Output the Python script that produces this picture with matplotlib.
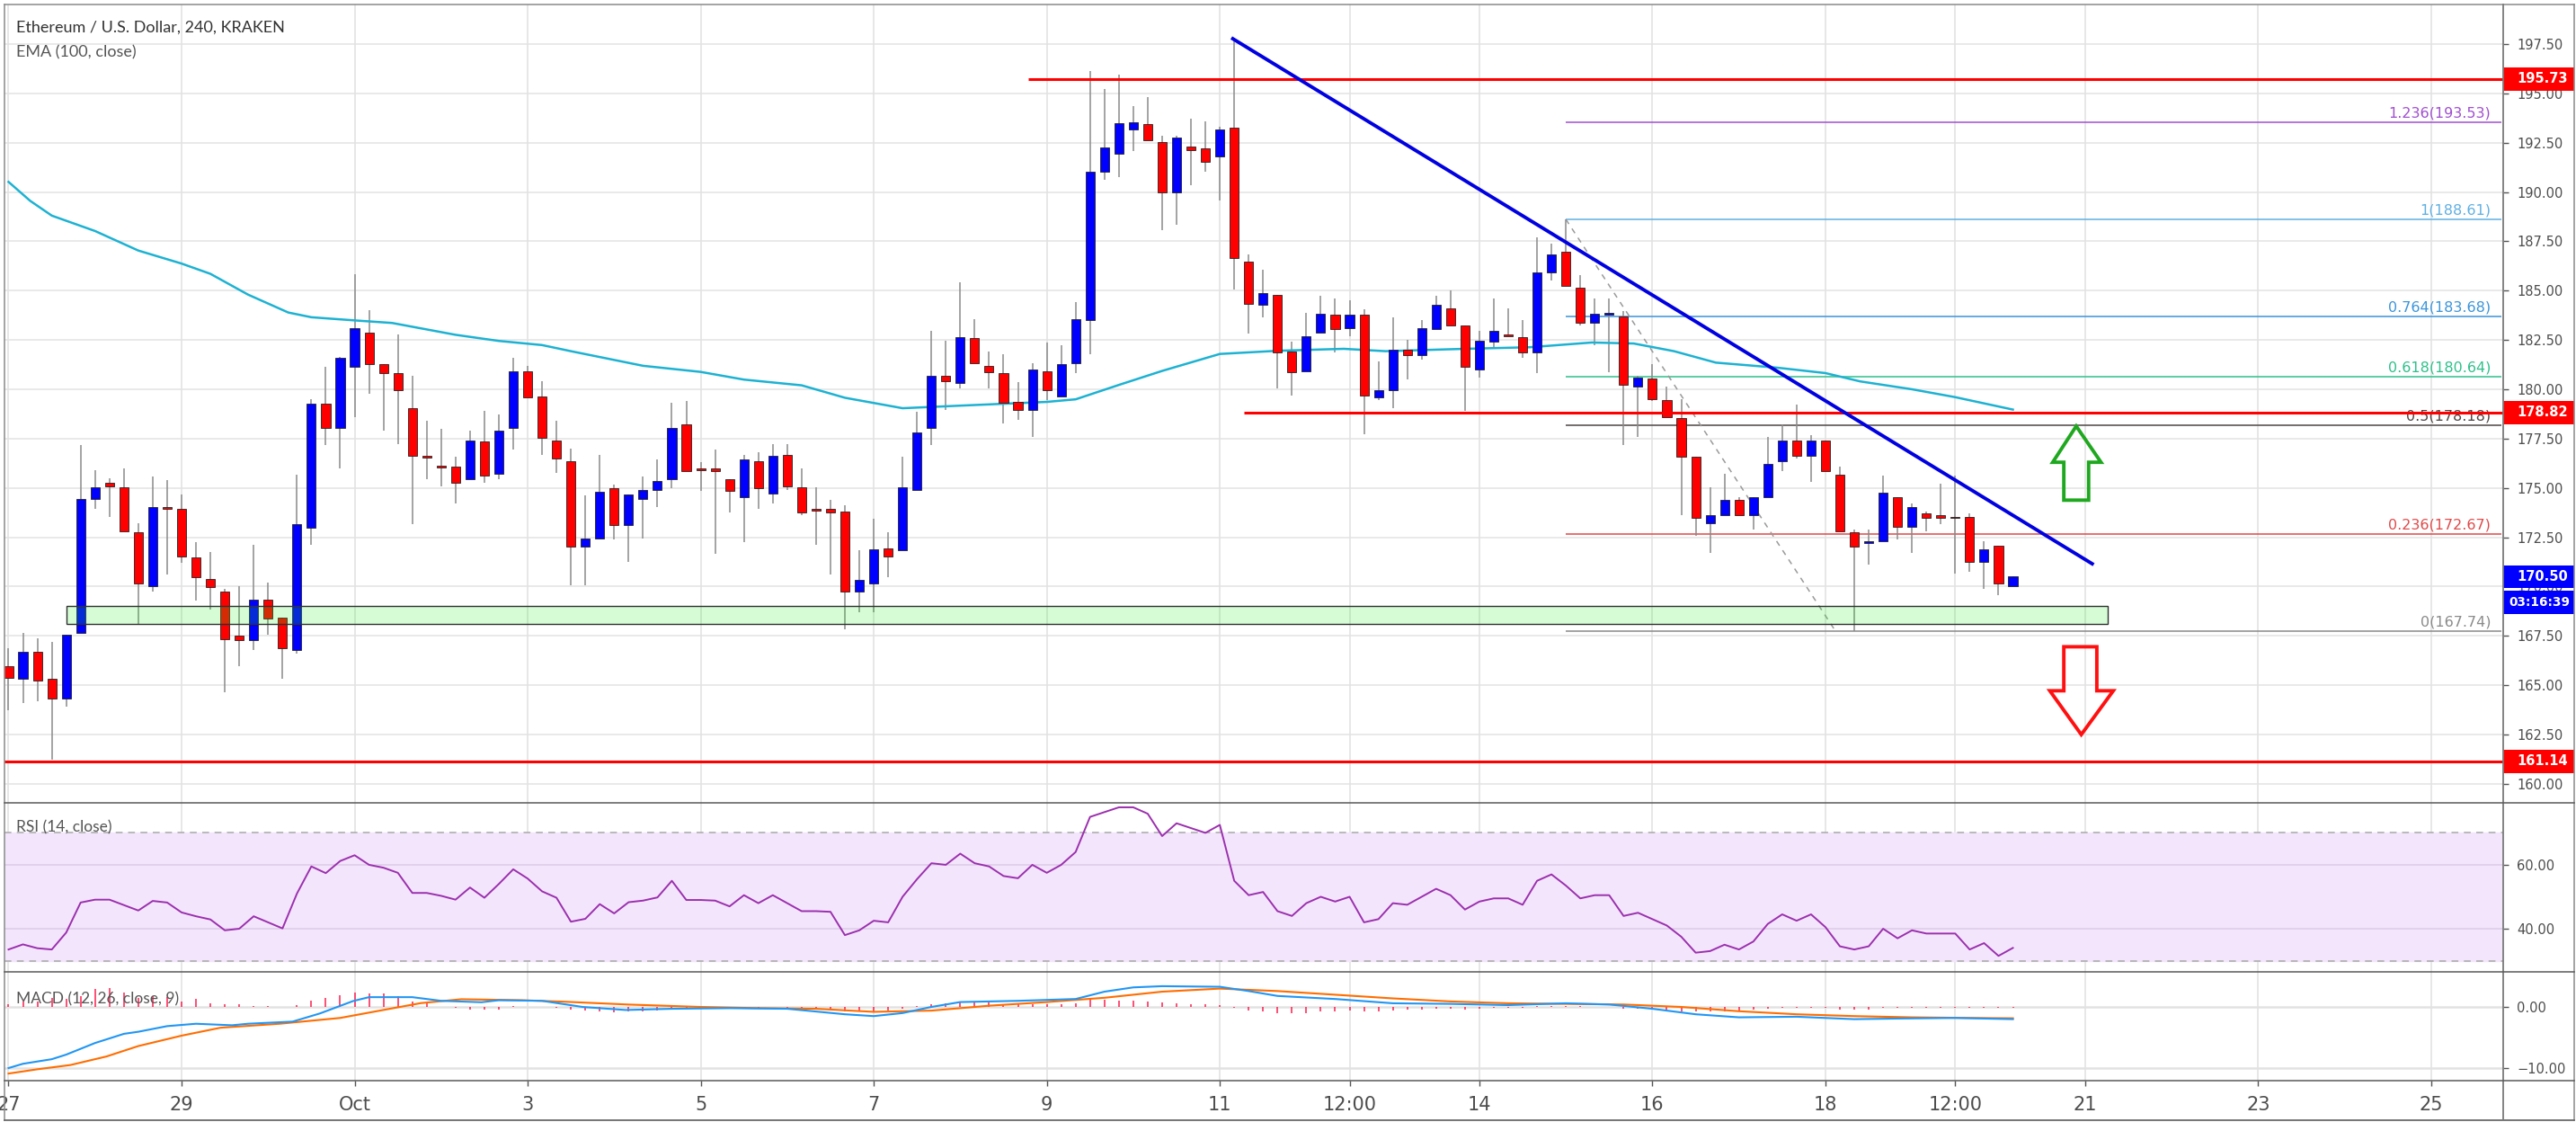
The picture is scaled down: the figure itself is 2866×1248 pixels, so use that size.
import matplotlib
matplotlib.use('Agg')
import matplotlib.pyplot as plt
import matplotlib.transforms as mtransforms
from matplotlib.patches import Rectangle, Polygon
from matplotlib.lines import Line2D

# ---- data (4h candles, bar 0 = Sep 27 00:00) ----
opens = [165.96, 165.35, 166.69, 165.35, 164.33, 167.63, 174.46, 175.25, 175.04, 172.76,
         170.01, 173.99, 173.94, 171.50, 170.38, 169.73, 167.53, 167.27, 169.36, 168.44,
         166.80, 172.97, 179.25, 178.05, 181.14, 182.87, 181.27, 180.80, 179.04, 176.64,
         176.11, 176.08, 175.46, 177.34, 175.72, 178.05, 180.93, 179.62, 177.40, 176.35,
         172.03, 172.45, 174.99, 173.10, 174.46, 174.91, 175.46, 178.21, 175.98, 175.98,
         175.46, 174.54, 176.35, 174.73, 176.69, 175.04, 173.94, 173.94, 173.81, 169.75,
         170.14, 171.92, 171.85, 174.91, 178.05, 180.69, 180.30, 182.58, 181.19, 180.80,
         179.36, 178.97, 180.93, 179.65, 181.32, 183.49, 191.01, 191.95, 193.18, 193.44,
         192.53, 189.99, 192.32, 192.21, 191.82, 193.26, 186.45, 184.28, 184.80, 181.93,
         180.93, 182.89, 183.76, 183.10, 183.76, 179.57, 179.96, 182.00, 181.74, 183.05,
         184.10, 183.23, 181.01, 182.40, 182.76, 182.66, 181.87, 185.90, 186.98, 185.15,
         183.36, 183.78, 183.70, 180.14, 180.54, 179.44, 178.52, 176.56, 173.21, 173.60,
         174.38, 173.60, 174.54, 176.35, 177.42, 176.64, 177.42, 175.69, 172.76, 172.19,
         172.29, 174.54, 173.02, 173.73, 173.60, 173.49, 173.55, 171.24, 172.06, 170.01]
highs = [166.87, 167.66, 167.40, 167.21, 167.58, 177.16, 175.90, 175.51, 175.98, 173.21,
         175.56, 175.38, 174.67, 172.24, 171.77, 169.88, 170.01, 172.11, 170.22, 168.44,
         175.69, 179.51, 181.14, 181.66, 185.85, 184.02, 181.27, 182.79, 180.69, 178.39,
         178.00, 176.56, 177.92, 178.91, 178.73, 181.61, 181.19, 180.43, 178.39, 177.00,
         174.60, 176.69, 175.17, 174.65, 175.59, 176.43, 179.31, 179.39, 176.30, 176.95,
         175.46, 176.69, 176.79, 177.21, 177.21, 175.98, 175.04, 174.41, 174.12, 171.85,
         173.42, 172.76, 176.56, 178.86, 182.97, 182.45, 185.41, 183.57, 181.93, 181.79,
         180.35, 181.32, 182.37, 182.24, 184.41, 196.14, 195.22, 195.93, 194.36, 194.80,
         192.87, 192.87, 193.70, 193.57, 193.31, 197.81, 186.85, 186.06, 184.80, 182.40,
         183.89, 184.75, 184.62, 184.49, 184.07, 181.40, 183.63, 182.52, 183.49, 184.75,
         185.01, 183.23, 182.97, 184.62, 184.10, 183.49, 187.68, 187.37, 188.61, 185.77,
         184.59, 184.59, 183.97, 180.67, 181.27, 180.14, 179.51, 176.56, 175.04, 175.72,
         174.54, 174.54, 177.60, 178.21, 179.23, 177.66, 177.42, 176.09, 172.89, 172.89,
         175.64, 174.54, 174.20, 173.81, 175.20, 175.64, 173.73, 172.32, 172.06, 170.53]
lows = [163.73, 164.12, 164.20, 161.24, 163.91, 167.63, 173.94, 173.55, 172.81, 168.10,
        169.75, 170.61, 171.19, 169.31, 168.84, 164.65, 165.96, 166.80, 167.58, 165.35,
        166.61, 172.11, 177.16, 175.98, 178.57, 179.78, 177.92, 177.21, 173.16, 175.43,
        175.07, 174.20, 175.46, 175.25, 175.43, 176.95, 179.57, 176.69, 175.77, 170.07,
        170.07, 172.45, 172.37, 171.24, 172.42, 174.02, 174.99, 175.85, 174.86, 171.66,
        173.76, 172.24, 173.94, 174.20, 174.91, 173.63, 172.11, 170.61, 167.84, 168.70,
        168.70, 170.46, 171.85, 174.91, 177.16, 178.97, 180.04, 181.32, 180.04, 178.26,
        178.47, 177.60, 179.44, 179.65, 180.82, 181.79, 190.61, 190.77, 192.08, 192.61,
        188.08, 188.34, 190.35, 191.01, 189.57, 185.07, 182.84, 183.63, 180.04, 179.70,
        180.93, 182.89, 181.87, 182.71, 177.74, 179.44, 179.04, 180.48, 181.48, 183.05,
        183.23, 178.91, 180.61, 182.13, 182.71, 181.58, 180.80, 185.51, 185.25, 183.23,
        182.24, 180.88, 177.16, 177.60, 179.39, 178.57, 173.60, 172.58, 171.71, 173.60,
        173.60, 172.89, 174.54, 175.85, 176.51, 175.30, 175.85, 172.81, 167.74, 171.11,
        172.29, 172.37, 171.71, 172.81, 173.16, 170.67, 170.75, 169.88, 169.57, 170.01]
closes = [165.38, 166.69, 165.22, 164.33, 167.58, 174.46, 175.04, 175.09, 172.81, 170.14,
          174.02, 173.94, 171.53, 170.46, 169.96, 167.32, 167.27, 169.36, 168.39, 166.87,
          173.16, 179.25, 178.05, 181.58, 183.08, 181.27, 180.80, 179.96, 176.64, 176.53,
          176.03, 175.25, 177.40, 175.64, 177.92, 180.93, 179.57, 177.53, 176.48, 172.03,
          172.45, 174.80, 173.10, 174.65, 174.91, 175.33, 178.05, 175.85, 175.90, 175.83,
          174.86, 176.43, 174.99, 176.61, 175.07, 173.76, 173.86, 173.76, 169.75, 170.35,
          171.90, 171.53, 175.04, 177.79, 180.67, 180.43, 182.66, 181.32, 180.88, 179.31,
          178.97, 181.01, 179.96, 181.27, 183.57, 191.01, 192.26, 193.50, 193.52, 192.61,
          189.99, 192.74, 192.11, 191.53, 193.18, 186.64, 184.33, 184.88, 181.87, 180.88,
          182.71, 183.81, 183.05, 183.76, 179.70, 179.96, 182.00, 181.74, 183.10, 184.28,
          183.23, 181.14, 182.45, 182.97, 182.71, 181.87, 185.90, 186.85, 185.25, 183.36,
          183.81, 183.84, 180.22, 180.61, 179.51, 178.57, 176.56, 173.47, 173.60, 174.38,
          173.60, 174.54, 176.24, 177.42, 176.64, 177.42, 175.85, 172.81, 172.03, 172.32,
          174.78, 173.02, 174.02, 173.47, 173.47, 173.47, 171.24, 171.90, 170.14, 170.50]

# EMA(100) at a few bars
ema_bars = [0, 1.5, 3, 6, 9, 12, 14, 16.6, 19.4, 21, 24, 26.6, 31, 34, 37, 39, 44, 48, 51, 55,
            58, 62, 66, 72, 74, 77, 80, 84, 88, 92.6, 95.5, 101, 105.5, 109.8, 112.7, 115.5,
            118.4, 122.7, 126, 128.4, 132, 135, 139]
ema_vals = [190.51, 189.55, 188.80, 188.02, 187.03, 186.37, 185.85, 184.80, 183.89, 183.65,
            183.49, 183.36, 182.76, 182.45, 182.24, 181.93, 181.19, 180.88, 180.49, 180.20,
            179.57, 179.04, 179.17, 179.36, 179.49, 180.22, 180.93, 181.79, 181.95, 182.05,
            181.93, 182.05, 182.13, 182.37, 182.32, 181.93, 181.35, 181.09, 180.82, 180.40,
            180.00, 179.60, 178.97]

rsi = [33.5, 35.1, 33.9, 33.5, 38.8, 48.2, 49.1, 49.1, 47.4, 45.7, 48.7, 48.2, 45.1, 43.9,
       42.9, 39.5, 40.0, 43.9, 42.0, 40.1, 51.0, 59.5, 57.4, 61.2, 63.0, 60.0, 59.1, 57.5,
       51.2, 51.2, 50.3, 49.1, 52.9, 49.7, 54.0, 58.6, 55.7, 51.7, 49.7, 42.2, 43.1, 47.7,
       44.8, 48.3, 48.8, 49.8, 55.0, 49.0, 49.0, 48.8, 47.0, 50.5, 48.0, 50.5, 48.0, 45.5,
       45.5, 45.3, 38.0, 39.5, 42.5, 42.0, 50.0, 55.5, 60.5, 60.0, 63.5, 60.5, 59.5, 56.5,
       55.8, 60.0, 57.5, 60.0, 64.0, 75.0, 76.5, 78.0, 78.0, 76.0, 69.0, 73.0, 71.5, 70.0,
       72.5, 55.0, 50.5, 51.5, 45.5, 44.0, 48.0, 50.0, 48.5, 50.0, 42.0, 43.0, 48.0, 47.5,
       50.0, 52.5, 50.5, 46.0, 48.5, 49.5, 49.5, 47.5, 55.0, 57.0, 53.5, 49.5, 50.5, 50.5,
       44.0, 45.0, 43.0, 41.0, 37.5, 32.5, 33.0, 35.0, 33.5, 36.0, 41.5, 44.5, 42.5, 44.5,
       40.5, 34.5, 33.5, 34.5, 40.0, 37.0, 39.5, 38.5, 38.5, 38.5, 33.5, 35.5, 31.5, 34.0]

macd_bars = [0, 1, 3, 4, 6, 8, 9, 11, 13, 15.5, 16.6, 19.7, 21.6, 23.9, 25, 28, 30, 32.8, 34,
             37, 39.8, 42.8, 46, 50, 54, 58, 60, 62, 64, 66, 70, 74, 76, 78, 80, 84, 86, 88,
             92, 96, 100, 104, 108, 111, 114, 117, 120, 124, 128, 131, 135, 139]
macd_vals = [-10.0, -9.3, -8.55, -7.8, -5.9, -4.4, -4.06, -3.14, -2.75, -3.0, -2.75, -2.4,
             -1.06, 0.97, 1.6, 1.6, 1.0, 0.77, 1.1, 1.0, 0.0, -0.5, -0.3, -0.2, -0.3, -1.2,
             -1.5, -1.0, 0.0, 0.8, 1.0, 1.3, 2.5, 3.2, 3.4, 3.3, 2.6, 1.8, 1.3, 0.6, 0.5, 0.3,
             0.6, 0.4, -0.3, -1.2, -1.7, -1.6, -2.0, -1.9, -1.8, -2.0]
signal_bars = [0, 2, 4.3, 6.8, 9, 12, 14.7, 18.8, 23, 25.8, 28.6, 31.4, 35.6, 38.4, 43, 48,
               52, 56, 60, 64, 68, 72, 76, 80, 84, 88, 92, 96, 100, 104, 108, 112, 116, 120,
               124, 128, 132, 136, 139]
signal_vals = [-10.9, -10.2, -9.5, -8.1, -6.4, -4.7, -3.4, -2.75, -1.8, -0.58, 0.63, 1.26,
               1.1, 0.87, 0.39, 0.0, -0.2, -0.3, -0.8, -0.6, 0.2, 0.8, 1.5, 2.5, 3.0, 2.6,
               2.0, 1.4, 0.9, 0.6, 0.5, 0.4, 0.0, -0.7, -1.2, -1.5, -1.7, -1.8, -1.85]
hist = [0.5, 0.87, 0.9, 1.45, 1.4, 1.8, 2.9, 3.1, 2.3, 1.45, 1.8, 1.6, 0.87, 1.35, 0.6, 0.5,
        0.4, 0.1, 0.1, 0.0, 0.3, 1.0, 1.45, 1.9, 2.3, 2.2, 2.2, 1.7, 0.87, 0.6, 0.0, -0.2,
        -0.4, -0.4, -0.4, 0.1, 0.05, 0.0, -0.2, -0.4, -0.6, -0.7, -0.87, -0.8, -0.8, -0.6,
        -0.4, -0.3, -0.2, -0.2, -0.1, -0.1, -0.1, 0.0, -0.1, -0.2, -0.3, -0.4, -0.8, -0.8,
        -0.7, -0.6, -0.3, 0.1, 0.5, 0.6, 0.8, 0.8, 0.7, 0.5, 0.4, 0.4, 0.4, 0.4, 0.6, 1.2,
        1.2, 1.1, 1.0, 0.9, 0.8, 0.6, 0.5, 0.4, 0.3, -0.2, -0.6, -0.8, -1.0, -1.1, -1.0, -0.8,
        -0.7, -0.6, -0.8, -0.8, -0.6, -0.5, -0.4, -0.3, -0.3, -0.4, -0.3, -0.2, -0.2, -0.2,
        0.1, 0.2, 0.2, 0.1, 0.0, 0.0, -0.3, -0.3, -0.4, -0.5, -0.7, -0.8, -0.8, -0.7, -0.6,
        -0.5, -0.3, -0.2, -0.2, -0.1, -0.2, -0.4, -0.5, -0.4, -0.2, -0.2, -0.1, -0.1, -0.1,
        -0.1, -0.2, -0.2, -0.2, -0.2]

xtick_bars = [0, 12, 24, 36, 48, 60, 72, 84, 93, 102, 114, 126, 135, 144, 156, 168]
xtick_labels = ['27', '29', 'Oct', '3', '5', '7', '9', '11', '12:00', '14', '16', '18',
                '12:00', '21', '23', '25']

# drawn levels / tools
resist_levels = [195.73, 178.82, 161.14]
resist_start = [70.7, 85.7, -1.0]
fib_ratios = ['1.236', '1', '0.764', '0.618', '0.5', '0.236', '0']
fib_prices = [193.53, 188.61, 183.68, 180.64, 178.18, 172.67, 167.74]
fib_colors = ['#a04fd0', '#5fb0e2', '#3b95da', '#2ec08c', '#504545', '#e04a4a', '#8a8a8a']
fib_start, fib_end = 108.0, 126.7
trend_bars, trend_prices = [84.8, 144.6], [197.81, 171.11]
zone_bars, zone_prices = [4.0, 145.6], [168.10, 169.02]
last_price, countdown = 170.50, '03:16:39'

# ---- layout, in pixels of the 2866x1248 picture ----
W, H, DPI = 2866, 1248, 100
LEFT, RIGHT, EDGE = 5, 2785, 2864
TOP, PRICE_BOT, RSI_BOT, MACD_BOT, BOTTOM = 5, 893, 1081, 1202, 1246
XLIM = (-0.28, 173.0)

fig = plt.figure(figsize=(W / DPI, H / DPI), dpi=DPI)


def fx(px):
    return px / W


def fy(py):
    return 1 - py / H


def add_panel(top, bot):
    ax = fig.add_axes([fx(LEFT), fy(bot), fx(RIGHT - LEFT), (bot - top) / H])
    ax.set_xlim(*XLIM)
    for s in ax.spines.values():
        s.set_visible(False)
    ax.yaxis.tick_right()
    ax.tick_params(axis='y', length=4, width=1, color='#555555', pad=7,
                   labelsize=10.5, labelcolor='#4d4d4d')
    ax.set_xticks([])
    for xb in xtick_bars:
        ax.axvline(xb, color='#e0e0e0', lw=1.1, zorder=0)
    return ax


def price_tag(ax, y, text, color, h, x_text=2800, size=10.5):
    tr = mtransforms.blended_transform_factory(fig.transFigure, ax.transData)
    ax.add_patch(Rectangle((fx(RIGHT), y - h / 2), fx(EDGE) - fx(RIGHT), h, transform=tr,
                           facecolor=color, edgecolor='none', clip_on=False, zorder=6))
    ax.text(fx(x_text), y, text, transform=tr, color='white', fontsize=size,
            fontweight='bold', va='center', ha='left', clip_on=False, zorder=7)


# ---- price panel ----
ax = add_panel(TOP, PRICE_BOT)
ax.set_ylim(159.04, 199.50)
yt = [160 + 2.5 * k for k in range(16)]
ax.set_yticks(yt)
ax.set_yticklabels(['%.2f' % v for v in yt])
for v in yt:
    ax.axhline(v, color='#e3e3e3', lw=1.1, zorder=0)

bars = list(range(len(opens)))
up = [c >= o for o, c in zip(opens, closes)]
ax.vlines(bars, lows, highs, color='#8a8a8a', lw=1.1, zorder=2)
bottoms = [min(o, c) for o, c in zip(opens, closes)]
heights = [max(abs(c - o), 0.07) for o, c in zip(opens, closes)]
ax.bar(bars, heights, bottom=bottoms, width=0.63,
       color=['#0000ff' if u else '#ff0000' for u in up],
       edgecolor='#202020', linewidth=0.6, zorder=3)

ax.plot(ema_bars, ema_vals, color='#1db2d2', lw=1.8, zorder=2.5)

# support zone
ax.add_patch(Rectangle((zone_bars[0], zone_prices[0]), zone_bars[1] - zone_bars[0],
                       zone_prices[1] - zone_prices[0], facecolor=(0.1, 0.95, 0.1, 0.18),
                       edgecolor='#303030', lw=1.0, zorder=3.5))

# fib retracement
for r, p, c in zip(fib_ratios, fib_prices, fib_colors):
    ax.hlines(p, fib_start, XLIM[1] - 0.15, color=c, lw=1.1, zorder=1.5)
    ax.text(172.15, p + 0.12, '%s(%.2f)' % (r, p), color=c, fontsize=11.5,
            ha='right', va='bottom', zorder=1.6)
ax.plot([fib_start, fib_end], [fib_prices[1], fib_prices[-1]], color='#9a9a9a', lw=1.1,
        dashes=(4, 4), zorder=1.6)

for lvl, x0 in zip(resist_levels, resist_start):
    ax.hlines(lvl, x0, XLIM[1], color='#ff0000', lw=2.2, zorder=4)
ax.plot(trend_bars, trend_prices, color='#0000e0', lw=2.8, zorder=4,
        solid_capstyle='butt')

# arrows (up: break above trend line, down: break below zone)
up_arrow = [(143.39, 178.13), (145.11, 176.30), (144.25, 176.30), (144.25, 174.38),
            (142.53, 174.38), (142.53, 176.30), (141.76, 176.30)]
dn_arrow = [(143.74, 162.50), (145.96, 164.72), (144.82, 164.72), (144.82, 166.95),
            (142.53, 166.95), (142.53, 164.72), (141.56, 164.72)]
ax.add_patch(Polygon(up_arrow, closed=True, fill=False, edgecolor='#1fa81f', lw=2.8,
                     joinstyle='miter', zorder=4))
ax.add_patch(Polygon(dn_arrow, closed=True, fill=False, edgecolor='#ff1010', lw=2.8,
                     joinstyle='miter', zorder=4))

for lvl in resist_levels:
    price_tag(ax, lvl, '%.2f' % lvl, '#ff0000', 1.18)
price_tag(ax, last_price, '%.2f' % last_price, '#0000ff', 1.18)
price_tag(ax, last_price - 1.30, countdown, '#0000ff', 1.18, x_text=2791, size=9.8)

fig.text(fx(18), fy(31), 'Ethereum / U.S. Dollar, 240, KRAKEN', fontsize=13,
         family=['Lato', 'DejaVu Sans'], color='#333333', va='center')
fig.text(fx(18), fy(58), 'EMA (100, close)', fontsize=13, family=['Lato', 'DejaVu Sans'],
         color='#555555', va='center')

# ---- RSI panel ----
ax_r = add_panel(PRICE_BOT, RSI_BOT)
ax_r.set_ylim(26.5, 79.4)
ax_r.axhspan(30, 70, color='#f3e6fc', zorder=0)
for v in (60, 40):
    ax_r.axhline(v, color='#dccbe6', lw=1.1, zorder=0.5)
for v in (70, 30):
    ax_r.axhline(v, color='#a8a8a8', lw=1.1, dashes=(5, 4), zorder=0.5)
ax_r.plot(bars, rsi, color='#9c2fae', lw=1.4, zorder=2)
ax_r.set_yticks([40, 60])
ax_r.set_yticklabels(['40.00', '60.00'])
fig.text(fx(18), fy(920), 'RSI (14, close)', fontsize=12.5, family=['Lato', 'DejaVu Sans'],
         color='#555555', va='center')

# ---- MACD panel ----
ax_m = add_panel(RSI_BOT, MACD_BOT)
ax_m.set_ylim(-12.06, 5.74)
for v in (0, -10):
    ax_m.axhline(v, color='#e2e2e2', lw=1.8, zorder=0.5)
ax_m.vlines(bars, 0, hist, color='#ff1e50', lw=1.1, zorder=1)
ax_m.plot(signal_bars, signal_vals, color='#ff6d00', lw=1.5, zorder=2)
ax_m.plot(macd_bars, macd_vals, color='#2196f3', lw=1.5, zorder=2.1)
ax_m.set_yticks([-10, 0])
ax_m.set_yticklabels(['\u221210.00', '0.00'])
ax_m.set_xticks(xtick_bars)
ax_m.set_xticklabels(xtick_labels)
ax_m.tick_params(axis='x', length=4, width=1, color='#555555', pad=8, labelsize=15,
                 labelcolor='#4d4d4d')
for lbl in ax_m.get_xticklabels():
    lbl.set_family(['Liberation Sans Narrow', 'DejaVu Sans'])
fig.text(fx(18), fy(1111), 'MACD (12, 26, close, 9)', fontsize=12.5,
         family=['Lato', 'DejaVu Sans'], color='#555555', va='center')

# ---- frame and panel separators ----
def fig_line(x0, y0, x1, y1, color, lw):
    fig.add_artist(Line2D([fx(x0), fx(x1)], [fy(y0), fy(y1)], color=color, lw=lw,
                          transform=fig.transFigure, zorder=10))


fig_line(LEFT, TOP, EDGE, TOP, '#8a8a8a', 1.1)
fig_line(LEFT, TOP, LEFT, BOTTOM, '#8a8a8a', 1.1)
fig_line(EDGE, TOP, EDGE, BOTTOM, '#8a8a8a', 1.1)
fig_line(LEFT, BOTTOM, EDGE, BOTTOM, '#6a6a6a', 1.3)
fig_line(RIGHT, TOP, RIGHT, BOTTOM, '#7a7a7a', 1.3)
for yy in (PRICE_BOT, RSI_BOT, MACD_BOT):
    fig_line(LEFT, yy, EDGE, yy, '#5a5a5a', 1.1)

fig.savefig('out.png', dpi=DPI, facecolor='white')
